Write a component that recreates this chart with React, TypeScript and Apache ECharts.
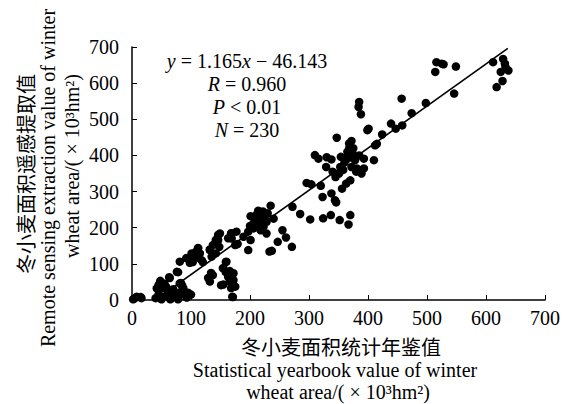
import React, { useEffect, useRef } from "react";
import * as echarts from "echarts";

const statX: number[] = [
  612, 629, 632, 625, 638, 628, 618, 633, 516, 525, 528, 514, 549, 546, 498, 474, 457, 458, 447, 439,
  424, 412, 415, 401, 399, 410, 393, 389, 393, 385, 384, 388, 347, 368, 368, 367, 370, 374, 378, 381,
  372, 364, 354, 353, 351, 340, 338, 329, 310, 316, 370, 363, 356, 344, 346, 338, 323, 320, 296, 304,
  272, 285, 302, 324, 337, 352, 370, 367,
  235, 214, 201, 207, 220, 228, 211, 223, 228, 218, 206, 197, 201, 197, 189, 177, 169, 169, 179, 233,
  237, 247, 255, 261, 271, 149, 146, 148, 142, 132, 135, 112, 115, 118, 107, 101, 98, 81, 76, 63,
  48, 45, 50, 56, 42, 81, 87, 90, 81, 76, 78, 64, 50, 70, 93, 8, 16, 2, 132, 137,
  160, 155, 166, 172, 163, 155, 172, 175, 170, 166,
  47, 49, 58, 64, 52, 78, 86, 83, 92, 78, 92, 100, 108, 112, 103, 120, 132, 137, 142, 146,
  163, 168, 175, 134, 129, 159, 154, 159, 163, 168, 151, 168, 171, 15, 5,
  210, 215, 225, 230, 220, 205, 200, 212, 240, 222,
  360, 375, 365, 385, 358, 345, 330, 372, 380,
  55, 60, 70, 85, 95, 40, 65, 100, 45,
];

const remoteY: number[] = [
  658, 667, 654, 631, 635, 606, 589, 645, 658, 654, 652, 631, 646, 571, 545, 517, 557, 483, 474, 488,
  458, 428, 432, 474, 470, 387, 364, 350, 391, 548, 534, 514, 449, 433, 419, 405, 396, 405, 387, 364,
  368, 391, 396, 368, 350, 355, 389, 368, 401, 391, 331, 322, 308, 276, 270, 295, 285, 316, 324, 320,
  258, 238, 223, 226, 235, 221, 235, 209,
  261, 247, 232, 226, 230, 216, 212, 203, 184, 193, 198, 189, 166, 138, 175, 189, 184, 170, 155, 134,
  136, 161, 193, 173, 147, 184, 166, 147, 129, 140, 120, 143, 129, 110, 115, 129, 103, 106, 78, 63,
  53, 41, 32, 37, 32, 46, 32, 18, 20, 9, 2, 9, 2, 18, 7, 9, 5, 2, 51, 69,
  106, 88, 80, 74, 69, 43, 55, 37, 9, 51,
  47, 33, 36, 61, 8, 8, 33, 47, 8, 77, 116, 119, 133, 144, 105, 105, 138, 152, 166, 180,
  171, 185, 152, 75, 61, 105, 88, 77, 64, 55, 41, 33, 8, 8, 5,
  220, 205, 225, 240, 215, 210, 205, 238, 225, 245,
  380, 420, 410, 400, 360, 340, 395, 440, 355,
  45, 25, 30, 40, 20, 5, 2, 15, 15,
];

const fitStart: number[] = [39.6, 0];
const fitEnd: number[] = [637, 696];

const axisTicks: number[] = [0, 100, 200, 300, 400, 500, 600, 700];

const annotationLines: string[] = [
  "{i|y} = 1.165{i|x} − 46.143",
  "{i|R} = 0.960",
  "{i|P} < 0.01",
  "{i|N} = 230",
];

const xTitleCn = "冬小麦面积统计年鉴值";
const xTitleEn1 = "Statistical yearbook value of winter";
const xTitleEn2 = "wheat area/( × 10³hm²)";
const yTitleCn = "冬小麦面积遥感提取值";
const yTitleEn1 = "Remote sensing extraction value of winter";
const yTitleEn2 = "wheat area/( × 10³hm²)";

const SERIF = "'Liberation Serif', 'Times New Roman', serif";
const CJK = "'Noto Sans CJK SC', sans-serif";
const FS = 20;

export default function App() {
  const ref = useRef<HTMLDivElement>(null);
  useEffect(() => {
    if (!ref.current) return;
    const chart = echarts.init(ref.current, undefined, { renderer: "svg" });
    const points = statX.map((x, i) => [x, remoteY[i]]);
    const axisCommon = {
      type: "value" as const,
      min: axisTicks[0],
      max: axisTicks[axisTicks.length - 1],
      interval: axisTicks[1] - axisTicks[0],
      splitLine: { show: false },
      axisLine: { show: true, onZero: false, lineStyle: { color: "#000", width: 1.5 } },
      axisTick: { show: true, inside: true, length: 5, lineStyle: { color: "#000", width: 1 } },
    };
    const rich = { i: { fontStyle: "italic", fontFamily: SERIF, fontSize: FS, color: "#000" } };
    const latin = { fontFamily: SERIF, fontSize: FS, fill: "#000", align: "center", verticalAlign: "middle" };
    chart.setOption({
      animation: false,
      backgroundColor: "#fff",
      grid: { left: 132, right: 22, top: 47, bottom: 104, containLabel: false },
      xAxis: {
        ...axisCommon,
        axisLabel: { color: "#000", fontFamily: SERIF, fontSize: FS, margin: 8 },
      },
      yAxis: {
        ...axisCommon,
        axisLabel: { color: "#000", fontFamily: SERIF, fontSize: FS, margin: 13 },
      },
      series: [
        {
          type: "scatter",
          data: points,
          symbol: "circle",
          symbolSize: 8.5,
          itemStyle: { color: "#000", opacity: 1 },
          clip: false,
          z: 3,
        },
        {
          type: "line",
          data: [fitStart, fitEnd],
          symbol: "none",
          lineStyle: { color: "#000", width: 1.6 },
          z: 4,
        },
      ],
      graphic: [
        ...annotationLines.map((t, k) => ({
          type: "text",
          x: 247,
          y: 61 + k * 23,
          style: { ...latin, text: t, rich },
        })),
        {
          type: "text",
          x: 341,
          y: 346,
          style: { text: xTitleCn, align: "center", verticalAlign: "middle", fontFamily: CJK, fontSize: 20, fill: "#000" },
        },
        { type: "text", x: 335, y: 370, style: { ...latin, text: xTitleEn1 } },
        { type: "text", x: 338, y: 392, style: { ...latin, text: xTitleEn2 } },
        {
          type: "text",
          x: 25,
          y: 174,
          rotation: Math.PI / 2,
          style: { text: yTitleCn, align: "center", verticalAlign: "middle", fontFamily: CJK, fontSize: 20, fill: "#000" },
        },
        { type: "text", x: 48, y: 178, rotation: Math.PI / 2, style: { ...latin, text: yTitleEn1 } },
        { type: "text", x: 72, y: 166, rotation: Math.PI / 2, style: { ...latin, text: yTitleEn2 } },
      ],
    });
    return () => chart.dispose();
  }, []);
  return (
    <div
      ref={ref}
      style={{ position: "fixed", left: 0, top: 0, width: 567, height: 404, background: "#fff" }}
    />
  );
}
